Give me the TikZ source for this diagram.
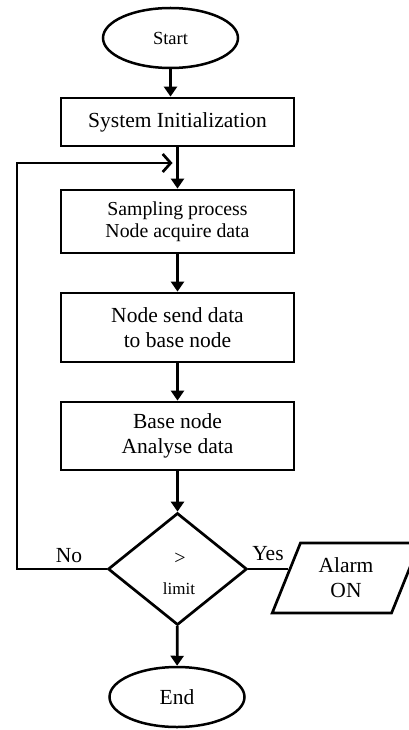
\documentclass[tikz,border=0pt]{standalone}
\usepackage{fontspec}
\setmainfont{Liberation Serif}
\usetikzlibrary{shapes.geometric,arrows.meta}
\begin{document}
\begin{tikzpicture}[x=1pt,y=-1pt,
  every node/.style={font=\fontsize{21.5}{25}\selectfont},
  boxnode/.style={draw,line width=2.8pt,rectangle,minimum width=233pt,align=center,inner sep=0pt},
  ovalnode/.style={draw,line width=2.5pt,ellipse,minimum width=135pt,minimum height=60pt,inner sep=0pt},
  decnode/.style={draw,line width=2.7pt,diamond,minimum width=139pt,minimum height=112pt,inner sep=0pt},
  ionode/.style={draw,line width=2.7pt,trapezium,trapezium left angle=67,trapezium right angle=113,
     trapezium stretches=true,minimum width=148pt,minimum height=70pt,inner sep=0pt,align=center},
  flow/.style={line width=2.7pt,-{Triangle[length=10pt,width=13pt]}},
  loopflow/.style={line width=2.7pt,-{Straight Barb[length=8pt,width=18pt,line width=2.7pt]}},
  plainline/.style={line width=2.7pt},
  smalltext/.style={font=\fontsize{17}{20}\selectfont,inner sep=0pt},
]
\clip (0,0) rectangle (409,730);
\node[ovalnode,font=\fontsize{18.5}{22}\selectfont] (start) at (170.5,38) {Start};
\node[boxnode,minimum height=48pt] (init) at (177.5,122) {System Initialization};
\node[boxnode,minimum height=63pt,font=\fontsize{19.8}{22}\selectfont] (samp) at (177.5,221.5) {Sampling process\\Node acquire data};
\node[boxnode,minimum height=69pt] (send) at (177.5,327.5) {Node send data\\to base node};
\node[boxnode,minimum height=68pt] (base) at (177.5,436) {Base node\\Analyse data};
\node[decnode] (dec) at (177.5,569) {};
\node[smalltext,font=\fontsize{20}{22}\selectfont] (gt) at (180,559) {>};
\node[smalltext] (lim) at (179,589) {limit};
\node[ionode] (alarm) at (346,578) {Alarm\\ON};
\node[ovalnode] (end) at (177,697) {End};
\node[inner sep=0pt] (no) at (69,556) {No};
\node[inner sep=0pt] (yes) at (268,554) {Yes};
\coordinate (lc) at (17,163);

\draw[flow] (start) -- (start |- init.north);
\draw[flow] (init) -- (samp);
\draw[flow] (samp) -- (send);
\draw[flow] (send) -- (base);
\draw[flow] (base) -- (dec);
\draw[flow] (dec) -- (end);
\draw[plainline] (dec.east) -- ([xshift=3pt]dec.east -| alarm.west);
\draw[loopflow,shorten >=5pt] (dec.west) -- (dec.west -| lc) -- (lc) -- (init.south |- lc);
\end{tikzpicture}
\end{document}
